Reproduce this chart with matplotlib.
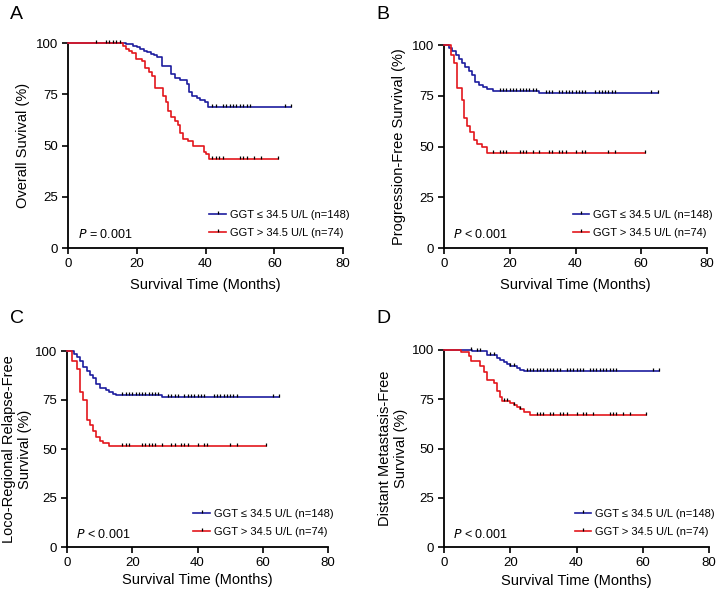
import numpy as np
import matplotlib
matplotlib.use("Agg")
import matplotlib.pyplot as plt
from matplotlib.lines import Line2D

plt.rcParams['font.family'] = ['Liberation Sans', 'DejaVu Sans']

# ---- data (step curves: time, survival %) ----
# A: overall survival
a_lo_t = [0, 17, 19, 20, 21, 22, 23, 24, 25, 26, 27.2, 30, 31, 32.5, 34.5, 35.2, 36.2, 37.4, 38.3, 39.8, 40.8, 65]
a_lo_s = [100, 99.3, 98.6, 98, 97, 96.2, 95.5, 94.8, 94, 93, 89, 85, 83, 82, 80, 76, 74, 73, 72, 71, 69, 69]
a_lo_c = [8, 11, 12, 13, 14, 15, 42, 43, 45, 46, 47, 48, 49, 50, 51, 52, 53, 63, 65]
a_hi_t = [0, 16, 16.8, 17.8, 18.5, 19.8, 21.5, 22.5, 23.5, 24.5, 25.2, 27.7, 28.5, 29.2, 30, 31, 32, 32.5, 33.5, 35, 36.5, 39.5, 40, 41, 61]
a_hi_s = [100, 98.5, 97, 96, 95, 92, 91, 88, 86, 84, 78, 74, 71, 67, 64, 62, 60, 56, 53, 52, 50, 47, 46, 43.5, 43.5]
a_hi_c = [42, 43, 44, 45, 50, 51, 52, 54, 56, 61]

# B: progression-free survival
b_lo_t = [0, 1.5, 2.5, 3.5, 4.5, 5.5, 6.5, 7.5, 8.5, 9.5, 10.5, 12, 13, 15, 29, 65]
b_lo_s = [100, 98.5, 97, 95, 93, 91, 89, 87, 85, 82, 80.5, 79.5, 78.5, 77.5, 76.5, 76.5]
b_lo_c = [17, 18, 19, 20, 21, 22, 23, 24, 25, 26, 27, 28, 31, 32, 33, 35, 36, 37, 38, 39, 40, 41, 42, 43,
          46, 47, 48, 49, 50, 51, 52, 63, 65]
b_hi_t = [0, 2, 3, 4, 5.5, 6, 7, 8, 9, 10, 11.5, 13, 61]
b_hi_s = [100, 95, 91, 79, 73, 64, 60, 57, 53, 51, 50, 47, 47]
b_hi_c = [15, 17, 18, 19, 23, 24, 25, 27, 29, 32, 33, 35, 36, 37, 40, 42, 43, 50, 52, 61]

# C: loco-regional relapse-free survival
c_lo_t = [0, 2, 3, 4, 5, 6, 7, 8, 9, 10, 12, 13, 14, 15, 29, 65]
c_lo_s = [100, 98.5, 97, 95, 92, 90, 88, 86, 83, 81, 80, 79, 78, 77.5, 76.5, 76.5]
c_lo_c = [17, 18, 19, 20, 21, 22, 23, 24, 25, 26, 27, 28, 31, 32, 33, 34, 36, 37, 38, 39, 40, 41, 42,
          45, 46, 47, 48, 49, 50, 51, 52, 63, 65]
c_hi_t = [0, 1.5, 3, 4, 5, 6, 7, 8, 9, 10, 11, 13, 61]
c_hi_s = [100, 95, 91, 79, 75, 65, 62, 59, 56, 54, 53, 51.5, 51.5]
c_hi_c = [17, 18, 19, 23, 24, 25, 26, 27, 29, 32, 33, 35, 36, 37, 40, 42, 43, 50, 52, 61]

# D: distant metastasis-free survival
d_lo_t = [0, 8.5, 13, 16, 17, 18, 19, 20, 22, 23, 24, 65]
d_lo_s = [100, 99.3, 97.5, 96, 95, 94, 93, 92, 91, 90, 89.5, 89.5]
d_lo_c = [8, 10, 11, 14, 15, 20, 21, 25, 26, 27, 28, 29, 30, 31, 32, 33, 34, 35, 37, 38, 39, 40, 41, 42,
          44, 45, 46, 47, 48, 49, 50, 51, 52, 63, 65]
d_hi_t = [0, 5, 7.5, 8, 11, 12, 13, 15, 16, 17, 17.5, 20, 21, 22, 23, 24, 26, 61]
d_hi_s = [100, 99, 97, 94.5, 92, 89, 85, 83, 79, 76, 74, 73, 72, 71, 70, 68.5, 67, 67]
d_hi_c = [18, 19, 21, 23, 28, 29, 30, 32, 33, 35, 36, 37, 40, 42, 43, 45, 50, 51, 52, 54, 56, 61]

letters = ['A', 'B', 'C', 'D']
ylabels = ['Overall Suvival (%)', 'Progression-Free Survival (%)',
           'Loco-Regional Relapse-Free\nSurvival (%)', 'Distant Metastasis-Free\nSurvival (%)']
ptexts = ['= 0.001', '< 0.001', '< 0.001', '< 0.001']
lo_label = 'GGT ≤ 34.5 U/L (n=148)'
hi_label = 'GGT > 34.5 U/L (n=74)'

panels = [
    (a_lo_t, a_lo_s, a_lo_c, a_hi_t, a_hi_s, a_hi_c),
    (b_lo_t, b_lo_s, b_lo_c, b_hi_t, b_hi_s, b_hi_c),
    (c_lo_t, c_lo_s, c_lo_c, c_hi_t, c_hi_s, c_hi_c),
    (d_lo_t, d_lo_s, d_lo_c, d_hi_t, d_hi_s, d_hi_c),
]

W, H = 726, 591
# axes boxes in pixels: left, top, right, bottom
boxes = [(68, 43, 343, 248), (444, 45, 707, 248), (67, 351, 328, 547), (444, 350, 709, 547)]
letter_pos = [(10, 6), (376, 6), (10, 310), (376, 310)]
xlabelpads = [6, 6, 3, 4]
ylabelpads = [4, 4, 2, 3]

blue = '#1c1c9e'
red = '#e3161c'

fig = plt.figure(figsize=(W / 100, H / 100), dpi=100)


def step_value(t, s, x):
    i = np.searchsorted(t, x, side='right') - 1
    return s[max(i, 0)]


for k, (lt, ls, lc, ht, hs, hc) in enumerate(panels):
    l, tp, r, b = boxes[k]
    ax = fig.add_axes([l / W, 1 - b / H, (r - l) / W, (b - tp) / H])
    for t, s, c, col in [(lt, ls, lc, blue), (ht, hs, hc, red)]:
        ax.step(t, s, where='post', color=col, lw=1.2, clip_on=False, zorder=3)
        cy = [step_value(t, s, x) for x in c]
        ax.plot(c, cy, ls='none', marker=2, ms=2.3, mew=0.9, color='black', clip_on=False, zorder=4)
    ax.set_xlim(0, 80)
    ax.set_ylim(0, 100)
    ax.set_xticks([0, 20, 40, 60, 80])
    ax.set_yticks([0, 25, 50, 75, 100])
    for sp in ['top', 'right']:
        ax.spines[sp].set_visible(False)
    for sp in ['left', 'bottom']:
        ax.spines[sp].set_linewidth(1.3)
    ax.tick_params(direction='out', length=4, width=1.2, labelsize=9.5, pad=3)
    ax.set_xlabel('Survival Time (Months)', fontsize=10.5, labelpad=xlabelpads[k])
    ax.set_ylabel(ylabels[k], fontsize=10.5, labelpad=ylabelpads[k])

    handles = [Line2D([0, 0.5, 1], [0, 0, 0], color=blue, lw=1.2, marker=2, ms=2.3, mew=0.9,
                      mec='black', markevery=[1]),
               Line2D([0, 0.5, 1], [0, 0, 0], color=red, lw=1.2, marker=2, ms=2.3, mew=0.9,
                      mec='black', markevery=[1])]
    ax.legend(handles, [lo_label, hi_label], loc='lower right', bbox_to_anchor=(1.06, 0.0),
              frameon=False, fontsize=8, handlelength=1.5, handletextpad=0.35, labelspacing=0.75)
    ax.text(0.035, 0.065, '$\\it{P}$ ' + ptexts[k], transform=ax.transAxes, fontsize=9,
            ha='left', va='center')
    fig.text(letter_pos[k][0] / W, 1 - letter_pos[k][1] / H, letters[k], fontsize=14,
             ha='left', va='top')

fig.savefig('out.png', dpi=100)
